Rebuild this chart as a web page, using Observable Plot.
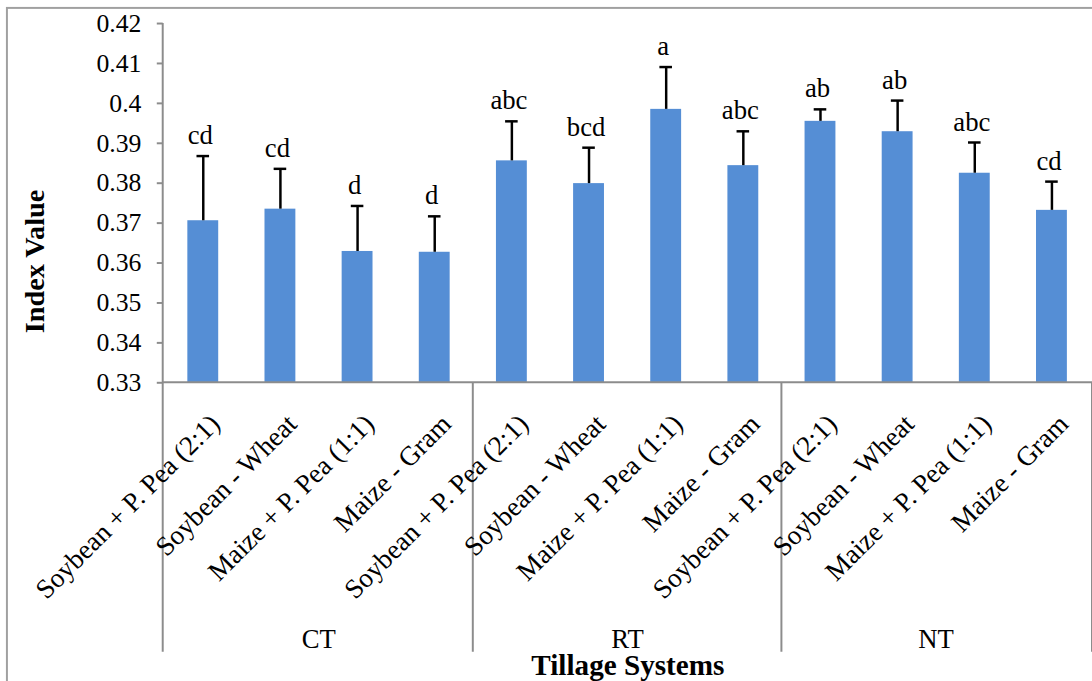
<!DOCTYPE html>
<html>
<head>
<meta charset="utf-8">
<script src="https://cdn.jsdelivr.net/npm/d3@7"></script>
<script src="https://cdn.jsdelivr.net/npm/@observablehq/plot@0.6"></script>
<style>
  html, body { margin: 0; padding: 0; background: #fff; overflow: hidden; }
  #chart { width: 1092px; height: 681px; overflow: hidden; }
  #chart svg text { font-family: 'Liberation Serif', 'Times New Roman', serif; }
</style>
</head>
<body>
<div id="chart"></div>
<script>
// ---- data ----
const groups = ["CT", "RT", "NT"];
const categories = ["Soybean + P. Pea (2:1)", "Soybean - Wheat", "Maize + P. Pea (1:1)", "Maize - Gram"];
const ctValues = [0.3706, 0.3735, 0.3629, 0.3627];
const rtValues = [0.3856, 0.3799, 0.3985, 0.3844];
const ntValues = [0.3955, 0.3929, 0.3825, 0.3732];
const ctErrors = [0.0162, 0.0101, 0.0114, 0.0090];
const rtErrors = [0.0099, 0.0090, 0.0106, 0.0086];
const ntErrors = [0.0030, 0.0078, 0.0077, 0.0072];
const ctLetters = ["cd", "cd", "d", "d"];
const rtLetters = ["abc", "bcd", "a", "abc"];
const ntLetters = ["ab", "ab", "abc", "cd"];
const yTicks = [0.33, 0.34, 0.35, 0.36, 0.37, 0.38, 0.39, 0.40, 0.41, 0.42];
const yTickLabels = ["0.33", "0.34", "0.35", "0.36", "0.37", "0.38", "0.39", "0.4", "0.41", "0.42"];
const yTitle = "Index Value";
const xTitle = "Tillage Systems";

// ---- table built from the arrays ----
const valueSets = {CT: ctValues, RT: rtValues, NT: ntValues};
const errorSets = {CT: ctErrors, RT: rtErrors, NT: ntErrors};
const letterSets = {CT: ctLetters, RT: rtLetters, NT: ntLetters};
const data = groups.flatMap(g => categories.map((c, i) => ({
  key: g + "|" + c, group: g, category: c,
  value: valueSets[g][i], err: errorSets[g][i], top: valueSets[g][i] + errorSets[g][i],
  letter: letterSets[g][i]
})));
const keys = data.map(d => d.key);
const yMin = yTicks[0], yMax = yTicks[yTicks.length - 1];
const groupMid = groups.map(g => ({group: g, key: g + "|" + categories[2]}));

const W = 1104, H = 681, ML = 164.5, MR = 0, MT = 23.3, MB = 294.5;
const bw = (W - ML - MR) / keys.length;
const serif = "'Liberation Serif', 'Times New Roman', serif";

const chart = Plot.plot({
  width: W, height: H,
  marginLeft: ML, marginRight: MR, marginTop: MT, marginBottom: MB,
  style: {fontFamily: serif, fontSize: "25px", color: "black", background: "white", overflow: "visible"},
  x: {domain: keys, padding: 0, axis: null},
  y: {domain: [yMin, yMax], axis: null},
  marks: [
    Plot.axisY({ticks: yTicks, tickFormat: (d) => yTickLabels[yTicks.indexOf(d)] ?? "",
      tickSize: 6, tickPadding: 16, stroke: "#8c8c8c", strokeWidth: 2, fill: "black",
      fontSize: 26, fontFamily: serif, fontVariant: "normal", label: null}),
    Plot.barY(data, {x: "key", y1: yMin, y2: "value", fill: "#558ed5",
      insetLeft: (bw - 31.5) / 2, insetRight: (bw - 31.5) / 2}),
    Plot.ruleX(data, {x: "key", y1: "value", y2: "top", stroke: "black", strokeWidth: 2.5}),
    Plot.tickY(data, {x: "key", y: "top", stroke: "black", strokeWidth: 2.5,
      insetLeft: (bw - 13) / 2, insetRight: (bw - 13) / 2}),
    Plot.text(data, {x: "key", y: "top", text: "letter", lineAnchor: "bottom", dy: -12, dx: -3,
      fontSize: 27, fontFamily: serif, fill: "black"}),
    Plot.text(data, {x: "key", text: "category", frameAnchor: "bottom", rotate: -45,
      textAnchor: "end", lineAnchor: "middle", dx: 12, dy: 37, fontSize: 27.5, fontFamily: serif, fill: "black"}),
    Plot.text(groupMid, {x: "key", text: "group", frameAnchor: "bottom", dx: -bw / 2,
      dy: 268, lineAnchor: "bottom", textAnchor: "middle", fontSize: 27, fontFamily: serif, fill: "black"}),
    Plot.text([xTitle], {text: d => d, frameAnchor: "bottom", dy: 295, lineAnchor: "bottom", textAnchor: "middle",
      fontSize: 29.5, fontWeight: "bold", fontFamily: serif, fill: "black"}),
    Plot.text([yTitle], {text: d => d, frameAnchor: "left", rotate: -90, dx: -129.5, dy: 59,
      textAnchor: "middle", lineAnchor: "middle", fontSize: 28.5, fontWeight: "bold", fontFamily: serif, fill: "black"})
  ]
});

// axis lines, category separators and outer border, positioned with Plot's scales
const xs = chart.scale("x"), ys = chart.scale("y");
const svg = d3.select(chart);
const axisColor = "#8c8c8c";
const y0 = ys.apply(yMin), yTop = ys.apply(yMax), yBottom = 659;
const deco = svg.insert("g", ":first-child").attr("stroke", axisColor).attr("stroke-width", 2);
// y axis (continues down as the first separator)
deco.append("line").attr("x1", ML).attr("x2", ML).attr("y1", yTop).attr("y2", yBottom);
// group separators below the axis
groups.forEach((g, i) => {
  if (i === 0) return;
  const x = xs.apply(g + "|" + categories[0]);
  deco.append("line").attr("x1", x).attr("x2", x).attr("y1", y0).attr("y2", yBottom);
});
deco.append("line").attr("x1", W).attr("x2", W).attr("y1", y0).attr("y2", yBottom);
// outer border
svg.insert("rect", ":first-child").attr("x", 7).attr("y", 8).attr("width", W + 20).attr("height", H + 20)
  .attr("fill", "none").attr("stroke", "#a0a0a0").attr("stroke-width", 2);
// baseline drawn above bars
svg.append("line").attr("x1", ML).attr("x2", W).attr("y1", y0).attr("y2", y0)
  .attr("stroke", axisColor).attr("stroke-width", 2);

document.getElementById("chart").appendChild(chart);
</script>
</body>
</html>
